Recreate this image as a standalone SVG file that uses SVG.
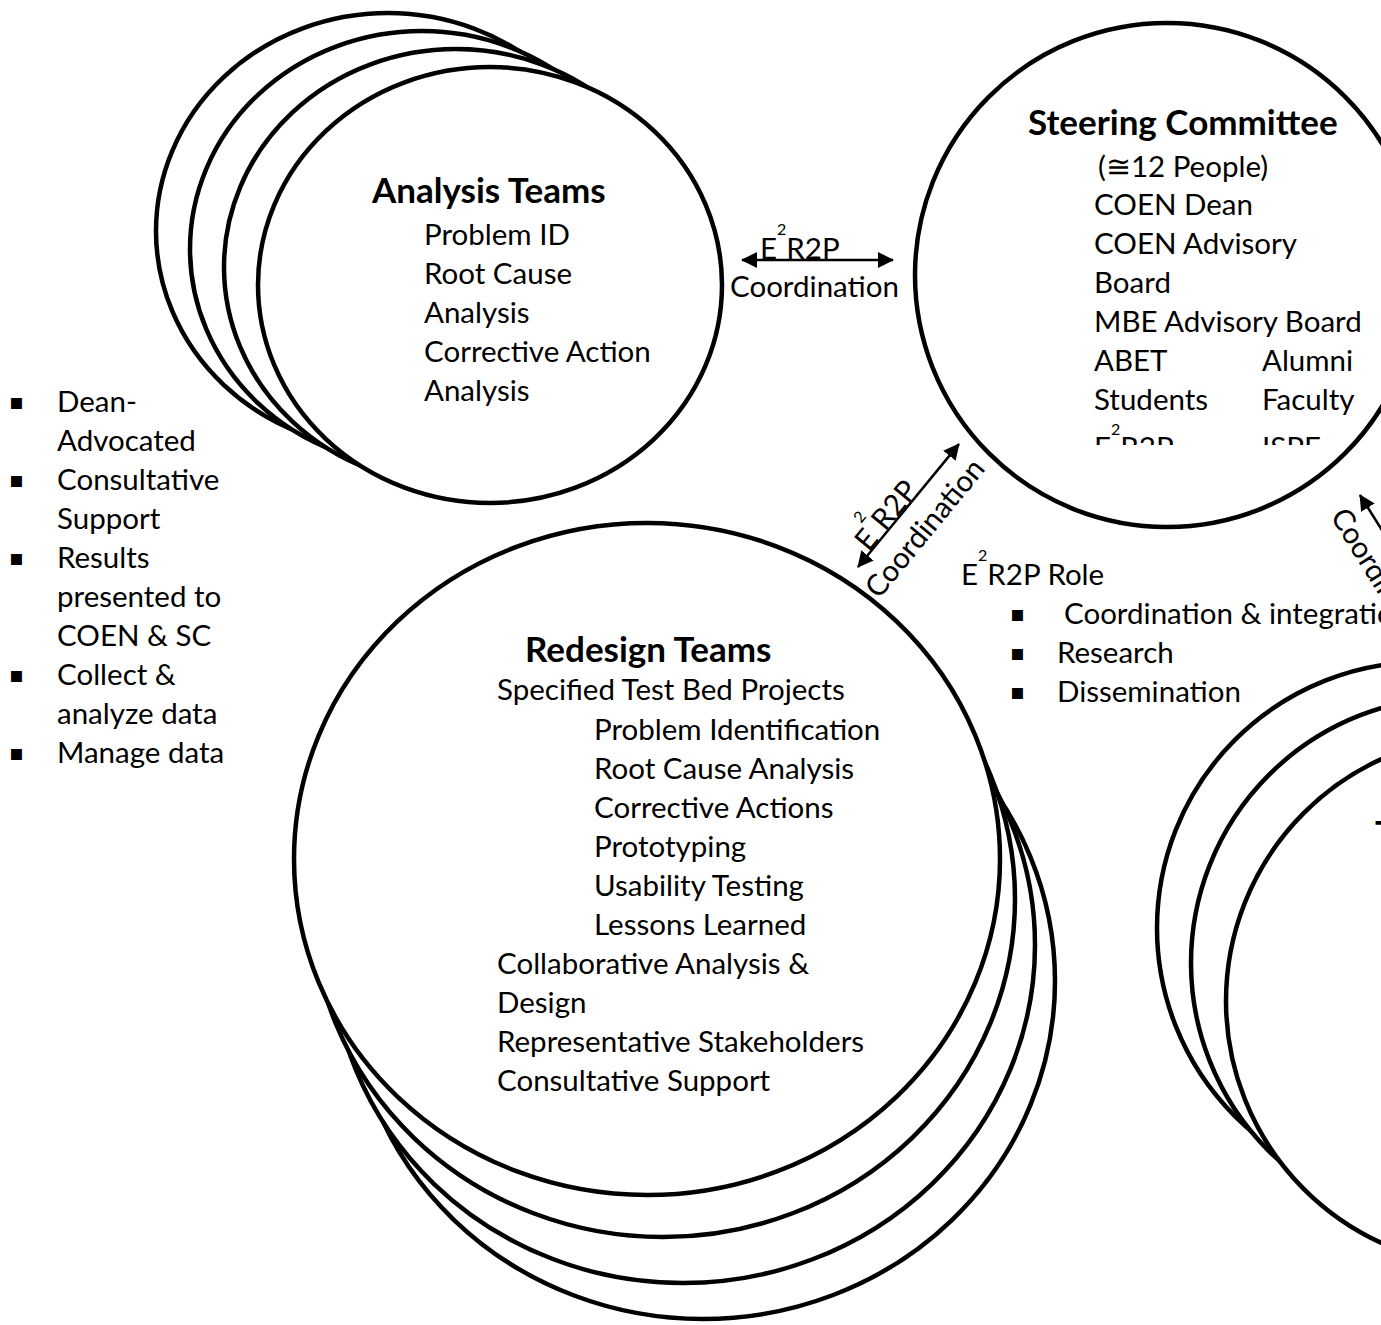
<svg xmlns="http://www.w3.org/2000/svg" width="1381" height="1325" viewBox="0 0 1381 1325">
<style>
.ov{fill:#fff;stroke:#000;stroke-width:4.5}
.t{font-family:Lato,"Liberation Sans",sans-serif;font-size:29.5px;fill:#000}
.b{font-family:Lato,"Liberation Sans",sans-serif;font-size:35px;font-weight:bold;fill:#000}
.sup{font-size:16px}
.bul{font-family:"DejaVu Sans",sans-serif;font-size:22px;fill:#000}
.ln{stroke:#000;stroke-width:2.5;fill:none}
</style>
<defs>
<marker id="ah" viewBox="0 -8 16 16" refX="15" refY="0" markerWidth="16" markerHeight="16" markerUnits="userSpaceOnUse" orient="auto-start-reverse">
<path d="M0,-8 L16,0 L0,8 z" fill="#000"/>
</marker>
<clipPath id="scClip"><rect x="900" y="0" width="481" height="445"/></clipPath>
<clipPath id="rdClip"><rect x="300" y="500" width="700" height="597"/></clipPath>
</defs>
<rect width="1381" height="1325" fill="#fff"/>

<g id="analysis-teams">
<ellipse class="ov" cx="388" cy="231" rx="232" ry="218"/>
<ellipse class="ov" cx="422" cy="249" rx="232" ry="218"/>
<ellipse class="ov" cx="456" cy="267" rx="232" ry="218"/>
<ellipse class="ov" cx="490" cy="285" rx="232" ry="218"/>
<text class="b" x="372" y="203">Analysis Teams</text>
<text class="t" x="424" y="245">Problem ID</text>
<text class="t" x="424" y="284">Root Cause</text>
<text class="t" x="424" y="323">Analysis</text>
<text class="t" x="424" y="362">Corrective Action</text>
<text class="t" x="424" y="401">Analysis</text>
</g>

<g id="steering-committee">
<circle class="ov" cx="1167" cy="275" r="252"/>
<text class="b" x="1028" y="135">Steering Committee</text>
<g clip-path="url(#scClip)">
<text class="t" x="1098" y="177">(≅12 People)</text>
<text class="t" x="1094" y="215">COEN Dean</text>
<text class="t" x="1094" y="254">COEN Advisory</text>
<text class="t" x="1094" y="293">Board</text>
<text class="t" x="1094" y="332">MBE Advisory Board</text>
<text class="t" x="1094" y="371">ABET</text>
<text class="t" x="1262" y="371">Alumni</text>
<text class="t" x="1094" y="410">Students</text>
<text class="t" x="1262" y="410">Faculty</text>
<text class="t" x="1094" y="458">E<tspan class="sup" dy="-23">2</tspan><tspan dy="23">R2P</tspan></text>
<text class="t" x="1262" y="458">ISPE</text>
</g>
</g>

<g id="redesign-teams">
<ellipse class="ov" cx="703" cy="981" rx="352" ry="338"/>
<ellipse class="ov" cx="683" cy="945" rx="352" ry="338"/>
<ellipse class="ov" cx="663" cy="899" rx="352" ry="338"/>
<ellipse class="ov" cx="647" cy="859" rx="353" ry="336"/>
<text class="b" x="525" y="662">Redesign Teams</text>
<g clip-path="url(#rdClip)">
<text class="t" x="497" y="700">Specified Test Bed Projects</text>
<text class="t" x="594" y="740">Problem Identification</text>
<text class="t" x="594" y="779">Root Cause Analysis</text>
<text class="t" x="594" y="818">Corrective Actions</text>
<text class="t" x="594" y="857">Prototyping</text>
<text class="t" x="594" y="896">Usability Testing</text>
<text class="t" x="594" y="935">Lessons Learned</text>
<text class="t" x="497" y="974">Collaborative Analysis &amp;</text>
<text class="t" x="497" y="1013">Design</text>
<text class="t" x="497" y="1052">Representative Stakeholders</text>
<text class="t" x="497" y="1091">Consultative Support</text>
</g>
</g>

<g id="third-teams">
<circle class="ov" cx="1423" cy="928" r="266"/>
<circle class="ov" cx="1457" cy="963" r="266"/>
<circle class="ov" cx="1492" cy="1001" r="266"/>
<text class="b" x="1375" y="846">T</text>
</g>

<g id="analysis-notes">
<text class="bul" x="9" y="409">▪</text>
<text class="bul" x="9" y="487">▪</text>
<text class="bul" x="9" y="565">▪</text>
<text class="bul" x="9" y="682">▪</text>
<text class="bul" x="9" y="760">▪</text>
<text class="t" x="57" y="412">Dean-</text>
<text class="t" x="57" y="451">Advocated</text>
<text class="t" x="57" y="490">Consultative</text>
<text class="t" x="57" y="529">Support</text>
<text class="t" x="57" y="568">Results</text>
<text class="t" x="57" y="607">presented to</text>
<text class="t" x="57" y="646">COEN &amp; SC</text>
<text class="t" x="57" y="685">Collect &amp;</text>
<text class="t" x="57" y="724">analyze data</text>
<text class="t" x="57" y="763">Manage data</text>
</g>

<g id="e2r2p-role">
<text class="t" x="961" y="585">E<tspan class="sup" dy="-24">2</tspan><tspan dy="24">R2P Role</tspan></text>
<text class="bul" x="1010" y="621">▪</text>
<text class="bul" x="1010" y="660">▪</text>
<text class="bul" x="1010" y="699">▪</text>
<text class="t" x="1064" y="624">Coordination &amp; integration</text>
<text class="t" x="1057" y="663">Research</text>
<text class="t" x="1057" y="702">Dissemination</text>
</g>

<g id="connectors">
<g id="conn-analysis-steering">
<line class="ln" x1="742" y1="260" x2="893" y2="260" marker-start="url(#ah)" marker-end="url(#ah)"/>
<text class="t" x="760" y="259">E<tspan class="sup" dy="-24">2</tspan><tspan dy="24">R2P</tspan></text>
<text class="t" x="730" y="297">Coordination</text>
</g>
<g id="conn-redesign-steering" transform="translate(858,567) rotate(-50.6)">
<line class="ln" x1="0" y1="0" x2="159" y2="0" marker-start="url(#ah)" marker-end="url(#ah)"/>
<text class="t" x="18" y="-1">E<tspan class="sup" dy="-24">2</tspan><tspan dy="24">R2P</tspan></text>
<text class="t" x="-12" y="37">Coordination</text>
</g>
<g id="conn-steering-third" transform="translate(1360,495) rotate(58)">
<line class="ln" x1="0" y1="0" x2="170" y2="0" marker-start="url(#ah)"/>
<text class="t" x="2" y="37">Coordination</text>
</g>
</g>
</svg>
